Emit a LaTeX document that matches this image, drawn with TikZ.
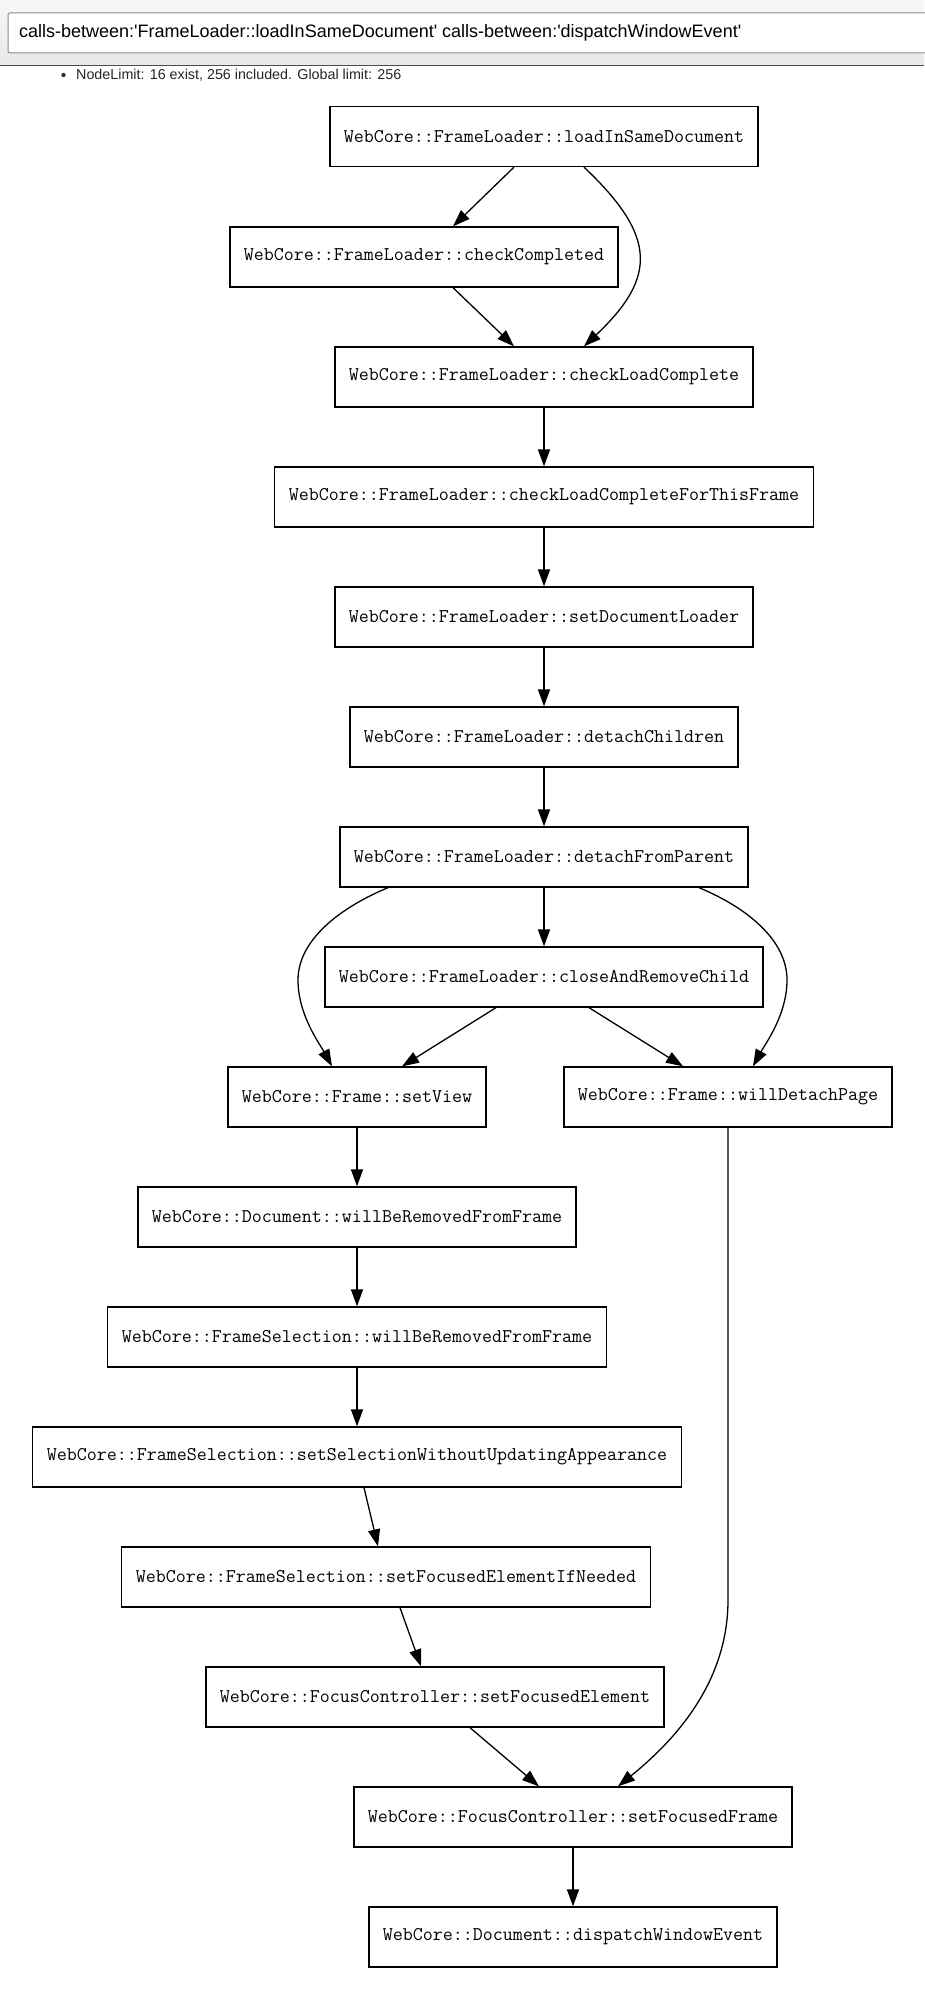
\documentclass[tikz,border=0pt]{standalone}
\usepackage{fontspec}
\setmainfont{Liberation Sans}[Ligatures=TeXOff]
\newfontfamily\monof{Latin Modern Mono}[Ligatures=TeXOff]
\usetikzlibrary{arrows.meta,calc}
\begin{document}
\begin{tikzpicture}[x=1pt,y=1pt,
  fn/.style={draw=black, line width=1.3pt, fill=white, minimum height=60pt,
    inner xsep=14pt, inner ysep=0pt, text=black,
    font=\monof\fontsize{19.43}{22}\selectfont},
  call/.style={draw=black, line width=1.3pt,
    -{Triangle[length=17pt,width=12pt]}}]
\useasboundingbox (0,0) rectangle (924,-1991);
\fill[white] (0,0) rectangle (924,-1991);
% toolbar
\shade[top color=black!3, bottom color=black!9] (0,0) rectangle (924,-66);
\draw[black!70, line width=1pt] (0,-66) -- (924,-66);
\draw[black!45, line width=1pt, fill=white, rounded corners=2pt] (8,-13) rectangle (940,-53);
\node[anchor=west, inner sep=0pt, font=\fontsize{18}{22}\selectfont, text=black] (query) at (19,-33)
  {calls-between:'FrameLoader::loadInSameDocument' calls-between:'dispatchWindowEvent'};
\fill[black!80] (63.5,-75) circle (2.2pt);
\node[anchor=west, inner sep=0pt, font=\fontsize{14.3}{17}\selectfont, text=black!85] (limit) at (76,-75)
  {NodeLimit: 16 exist, 256 included. Global limit: 256};
% nodes
\node[fn] (n1) at (544,-136.5) {WebCore::FrameLoader::loadInSameDocument};
\node[fn] (n2) at (424,-257) {WebCore::FrameLoader::checkCompleted};
\node[fn] (n3) at (544,-377) {WebCore::FrameLoader::checkLoadComplete};
\node[fn] (n4) at (544,-497) {WebCore::FrameLoader::checkLoadCompleteForThisFrame};
\node[fn] (n5) at (544,-617) {WebCore::FrameLoader::setDocumentLoader};
\node[fn] (n6) at (544,-737) {WebCore::FrameLoader::detachChildren};
\node[fn] (n7) at (544,-857) {WebCore::FrameLoader::detachFromParent};
\node[fn] (n8) at (544,-977) {WebCore::FrameLoader::closeAndRemoveChild};
\node[fn] (n9) at (357,-1097) {WebCore::Frame::setView};
\node[fn] (n10) at (728,-1097) {WebCore::Frame::willDetachPage};
\node[fn] (n11) at (357,-1217) {WebCore::Document::willBeRemovedFromFrame};
\node[fn] (n12) at (357,-1337) {WebCore::FrameSelection::willBeRemovedFromFrame};
\node[fn] (n13) at (357,-1457) {WebCore::FrameSelection::setSelectionWithoutUpdatingAppearance};
\node[fn] (n14) at (386,-1577) {WebCore::FrameSelection::setFocusedElementIfNeeded};
\node[fn] (n15) at (435,-1697) {WebCore::FocusController::setFocusedElement};
\node[fn] (n16) at (573,-1817) {WebCore::FocusController::setFocusedFrame};
\node[fn] (n17) at (573,-1937) {WebCore::Document::dispatchWindowEvent};
% edges
\draw[call] ([xshift=-30pt]n1.south) -- ([xshift=29pt]n2.north);
\draw[call] ([xshift=40pt]n1.south) .. controls +(73,-69) and +(73,69) .. ([xshift=40pt]n3.north);
\draw[call] ([xshift=29pt]n2.south) -- ([xshift=-30pt]n3.north);
\draw[call] (n3) -- (n4);
\draw[call] (n4) -- (n5);
\draw[call] (n5) -- (n6);
\draw[call] (n6) -- (n7);
\draw[call] (n7) -- (n8);
\coordinate (lw) at (298,-980);
\coordinate (rw) at (787,-980);
\draw[call] ([xshift=-156pt]n7.south) .. controls +(-48,-20) and +(0,40) .. (lw)
  .. controls +(0,-35) and +(-12,22) .. ([xshift=-25pt]n9.north);
\draw[call] ([xshift=155pt]n7.south) .. controls +(48,-20) and +(0,40) .. (rw)
  .. controls +(0,-35) and +(12,22) .. ([xshift=25pt]n10.north);
\draw[call] ([xshift=-48pt]n8.south) -- ([xshift=45pt]n9.north);
\draw[call] ([xshift=45pt]n8.south) -- ([xshift=-45pt]n10.north);
\draw[call] (n9) -- (n11);
\draw[call] (n11) -- (n12);
\draw[call] (n12) -- (n13);
\draw[call] ([xshift=7pt]n13.south) -- ([xshift=-8pt]n14.north);
\draw[call] ([xshift=14pt]n14.south) -- ([xshift=-14pt]n15.north);
\draw[call] ([xshift=35pt]n15.south) -- ([xshift=-34pt]n16.north);
\coordinate (bend) at (728,-1600);
\draw[call] (n10.south) -- (bend) .. controls (728,-1660) and (700,-1720) .. ([xshift=45pt]n16.north);
\draw[call] (n16) -- (n17);
\end{tikzpicture}
\end{document}
